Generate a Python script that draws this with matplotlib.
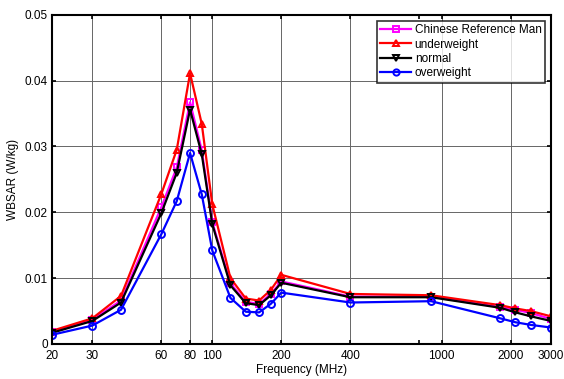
import matplotlib
matplotlib.use("Agg")
import matplotlib.pyplot as plt
from matplotlib.ticker import FixedLocator, FixedFormatter, NullFormatter

plt.rcParams['font.family'] = ['Liberation Sans', 'DejaVu Sans']

freq = [20, 30, 40, 60, 70, 80, 90, 100, 120, 140, 160, 180, 200, 400, 900, 1800, 2100, 2450, 3000]
crm = [0.0018, 0.0037, 0.0066, 0.0208, 0.0268, 0.0367, 0.0294, 0.0185, 0.0092, 0.0064, 0.0061, 0.0076, 0.0095,
       0.0072, 0.0072, 0.0056, 0.0052, 0.0047, 0.0038]
under = [0.0020, 0.0039, 0.0073, 0.0228, 0.0295, 0.0411, 0.0334, 0.0212, 0.0100, 0.0069, 0.0066, 0.0082, 0.0105,
         0.0076, 0.0074, 0.0059, 0.0054, 0.0050, 0.0042]
normal = [0.0017, 0.0035, 0.0063, 0.0199, 0.0260, 0.0356, 0.0288, 0.0182, 0.0089, 0.0062, 0.0059, 0.0074, 0.0093,
          0.0071, 0.0071, 0.0055, 0.0048, 0.0042, 0.0035]
over = [0.0014, 0.0028, 0.0052, 0.0167, 0.0217, 0.0290, 0.0227, 0.0142, 0.0070, 0.0049, 0.0048, 0.0061, 0.0078,
        0.0063, 0.0065, 0.0039, 0.0033, 0.0029, 0.0025]

xticks = [20, 30, 60, 80, 100, 200, 400, 1000, 2000, 3000]
xticklabels = ['20', '30', '60', '80', '100', '200', '400', '1000', '2000', '3000']
yticks = [0, 0.01, 0.02, 0.03, 0.04, 0.05]
yticklabels = ['0', '0.01', '0.02', '0.03', '0.04', '0.05']

fig = plt.figure(figsize=(5.64, 3.79), dpi=100)
ax = fig.add_axes([52/564, 35/379, (551-52)/564, (344-14.7)/379])

series = [
    (crm, 'magenta', 's', 'Chinese Reference Man'),
    (under, 'red', '^', 'underweight'),
    (normal, 'black', 'v', 'normal'),
    (over, 'blue', 'o', 'overweight'),
]
for vals, c, m, lab in series:
    ax.plot(freq, vals, color=c, marker=m, markersize=5, markerfacecolor='none',
            markeredgewidth=1.4, linewidth=1.6, label=lab)

ax.set_xscale('log')
ax.set_xlim(20, 3000)
ax.set_ylim(0, 0.05)
ax.xaxis.set_major_locator(FixedLocator(xticks))
ax.xaxis.set_major_formatter(FixedFormatter(xticklabels))
ax.xaxis.set_minor_locator(FixedLocator([800]))
ax.xaxis.set_minor_formatter(NullFormatter())
ax.set_yticks(yticks)
ax.set_yticklabels(yticklabels)
ax.tick_params(which='both', direction='in', top=True, right=True, labelsize=8.5, width=1.2)
ax.tick_params(which='major', length=3)
ax.tick_params(axis='x', which='major', pad=4)
ax.tick_params(axis='y', which='major', pad=3)
ax.tick_params(which='minor', length=3)
ax.grid(True, which='major', color='#666666', linewidth=0.7)
for s in ax.spines.values():
    s.set_linewidth(1.5)

ax.set_xlabel('Frequency (MHz)', fontsize=8.5, labelpad=2)
ax.set_ylabel('WBSAR (W/kg)', fontsize=8.5, labelpad=4)

leg = ax.legend(loc='upper right', fontsize=8.5, frameon=True, fancybox=False,
                edgecolor='black', borderpad=0.3, labelspacing=0.2, handlelength=2.6,
                handletextpad=0.3, borderaxespad=0.5, markerscale=0.9)
leg.get_frame().set_linewidth(1.2)

fig.savefig('out.png', dpi=100)
